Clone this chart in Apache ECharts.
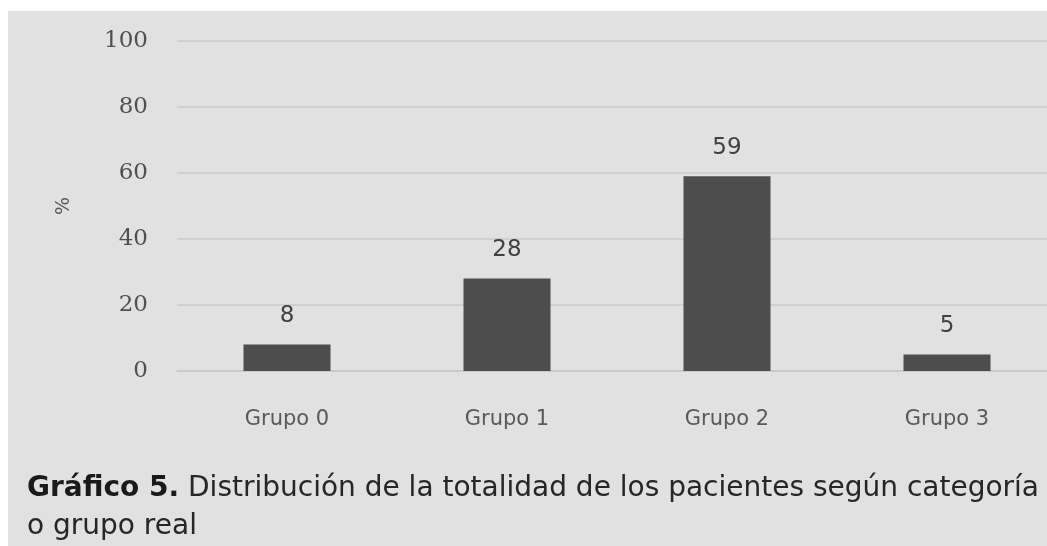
<!DOCTYPE html>
<html><head><meta charset="utf-8">
<script src="https://cdn.jsdelivr.net/npm/echarts@6/dist/echarts.min.js"></script>
<style>html,body{margin:0;padding:0;background:#fff}#c{width:1047px;height:546px}</style>
</head><body><div id="c"></div>
<script>
const categories = ['Grupo 0', 'Grupo 1', 'Grupo 2', 'Grupo 3'];
const values = [8, 28, 59, 5];
const yTicks = [0, 20, 40, 60, 80, 100];
const yAxisName = '%';
const captionBold = 'Gráfico 5.';
const captionRest = ' Distribución de la totalidad de los pacientes según categoría';
const captionLine2 = 'o grupo real';

const chart = echarts.init(document.getElementById('c'), null, {renderer: 'canvas'});
chart.setOption({
  animation: false,
  backgroundColor: '#ffffff',
  graphic: [
    {type: 'rect', z: -10, shape: {x: 8, y: 11, width: 1039, height: 535}, style: {fill: '#e1e1e1'}},
    {type: 'text', left: 27, top: 470, z: 10, style: {
      rich: {
        b: {font: 'bold 28px "DejaVu Sans"', fill: '#1a1a1a'},
        n: {font: '28px "DejaVu Sans"', fill: '#262626'}
      },
      text: '{b|' + captionBold + '}{n|' + captionRest + '}\n{n|' + captionLine2 + '}',
      lineHeight: 38
    }}
  ],
  grid: {left: 177, right: -10, top: 41, bottom: 175, containLabel: false, outerBoundsMode: 'none'},
  xAxis: {
    type: 'category', data: categories,
    axisLine: {show: true, lineStyle: {color: '#c8c8c8', width: 1.5}},
    axisTick: {show: false},
    axisLabel: {color: '#595959', fontSize: 21, fontFamily: '"DejaVu Sans"', margin: 38}
  },
  yAxis: {
    type: 'value', min: yTicks[0], max: yTicks[yTicks.length - 1], interval: 20,
    name: yAxisName, nameLocation: 'middle', nameRotate: 90, nameGap: 103,
    nameTextStyle: {color: '#595959', fontSize: 19, fontFamily: '"DejaVu Sans"'},
    axisLine: {show: false}, axisTick: {show: false},
    axisLabel: {color: '#505050', fontSize: 23, fontFamily: '"DejaVu Serif"', margin: 29},
    splitLine: {lineStyle: {color: '#c8c8c8', width: 1.5}}
  },
  series: [{
    type: 'bar', data: values, barWidth: 87,
    itemStyle: {color: '#4d4d4d'},
    label: {show: true, position: 'top', distance: 17, color: '#404040', fontSize: 23, fontFamily: '"DejaVu Sans"'}
  }]
});
</script></body></html>
